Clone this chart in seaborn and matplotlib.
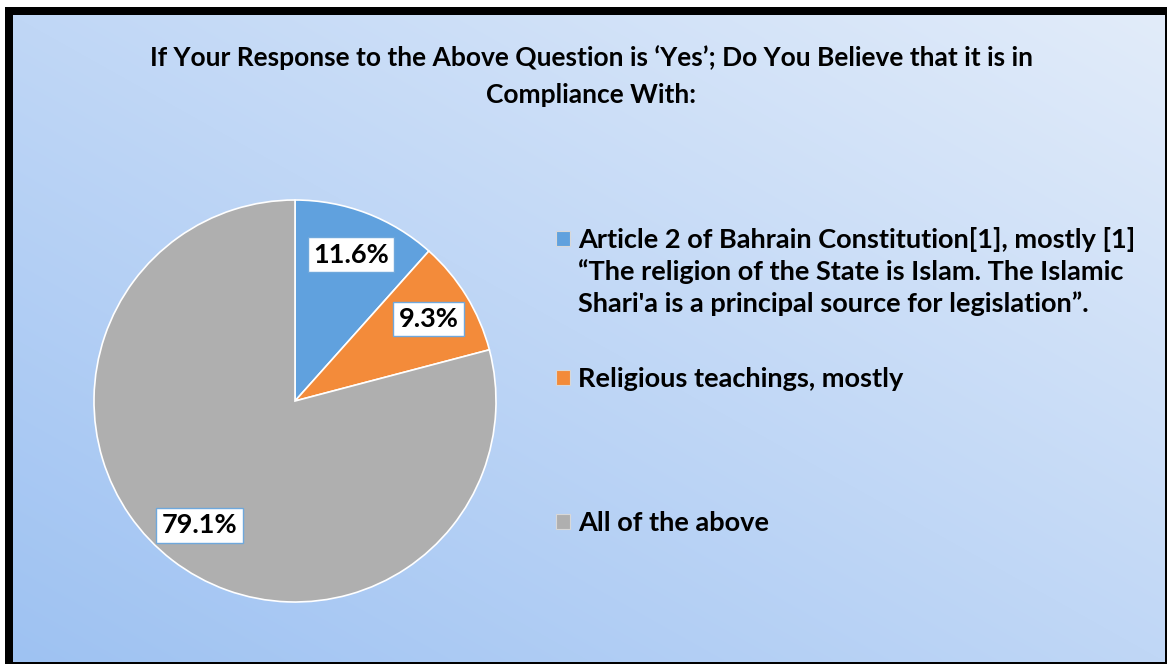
import numpy as np
import matplotlib
matplotlib.use("Agg")
import matplotlib.pyplot as plt
from matplotlib.patches import Patch, Rectangle
import seaborn as sns

# ---- data -------------------------------------------------------------
categories = [
    "Article 2 of Bahrain Constitution[1], mostly [1]\n"
    "\u201cThe religion of the State is Islam. The Islamic\n"
    "Shari'a is a principal source for legislation\u201d.",
    "Religious teachings, mostly",
    "All of the above",
]
shares = [11.6, 9.3, 79.1]
colors = ["#60a1de", "#f38b3a", "#afafaf"]
title_lines = [
    "If Your Response to the Above Question is \u2018Yes\u2019; Do You Believe that it is in",
    "Compliance With:",
]

# ---- style ------------------------------------------------------------
sns.set_theme(style="white")
plt.rcParams["font.family"] = ["Lato", "DejaVu Sans"]
plt.rcParams["font.weight"] = "bold"
plt.rcParams["text.color"] = "black"

W, H = 1168, 666
FS = 19.5
TITLE_FS = 19.0
fig = plt.figure(figsize=(W / 100, H / 100), dpi=100, facecolor="white")


def fx(px):
    return px / W


def fy(py):
    return 1 - py / H


# black frame with a heavier top/left edge
frame = Rectangle((fx(5), fy(664)), fx(1167) - fx(5), fy(7) - fy(664),
                  transform=fig.transFigure, facecolor="black",
                  edgecolor="none", zorder=-10)
fig.patches.append(frame)

# diagonal blue gradient panel
bg = fig.add_axes([fx(13), fy(662), fx(1165) - fx(13), fy(15) - fy(662)])
bg.set_zorder(-5)
gx, gy = np.meshgrid(np.linspace(0, 1, 400), np.linspace(1, 0, 240))
t = (gx + gy) / 2
c0 = np.array([0x9e, 0xc2, 0xf2]) / 255
c1 = np.array([0xe2, 0xec, 0xfa]) / 255
img = c0[None, None, :] * (1 - t[..., None]) + c1[None, None, :] * t[..., None]
bg.imshow(img, aspect="auto", extent=(0, 1, 0, 1), interpolation="bicubic")
bg.set_axis_off()

# ---- pie --------------------------------------------------------------
cx, cy, r = 295, 401, 201
ax = fig.add_axes([fx(cx - r), fy(cy + r), fx(2 * r), fy(cy - r) - fy(cy + r)])
wedges, texts, autotexts = ax.pie(
    shares,
    colors=colors,
    startangle=90,
    counterclock=False,
    autopct="%1.1f%%",
    pctdistance=0.78,
    wedgeprops=dict(edgecolor="white", linewidth=1.2),
    textprops=dict(fontsize=FS, fontweight="bold", color="black"),
)
for w in wedges:
    w.set_clip_on(False)
for at in autotexts:
    at.set_bbox(dict(boxstyle="square,pad=0.2", facecolor="white",
                     edgecolor="#6fa8dc", linewidth=1))
ax.set_xlim(-1, 1)
ax.set_ylim(-1, 1)
ax.set_aspect("equal")
ax.set_axis_off()

# ---- legend -----------------------------------------------------------
legend_tops = [227, 367, 511]
for label, color, top in zip(categories, colors, legend_tops):
    lines = label.split("\n")
    handles = [Patch(facecolor=color, edgecolor="#d8d8d8", linewidth=0.8)]
    handles += [Patch(facecolor="none", edgecolor="none")] * (len(lines) - 1)
    leg = fig.legend(
        handles, lines,
        loc="upper left",
        bbox_to_anchor=(fx(556), fy(top)),
        bbox_transform=fig.transFigure,
        frameon=False,
        fontsize=FS,
        handlelength=0.5,
        handleheight=0.5,
        handletextpad=0.3,
        labelspacing=0.27,
        borderpad=0,
        borderaxespad=0,
    )
    for txt in leg.get_texts():
        txt.set_fontweight("bold")
        txt.set_color("black")

# ---- title ------------------------------------------------------------
fig.text(fx(591), fy(58), title_lines[0], ha="center", va="center",
         fontsize=TITLE_FS, fontweight="bold", color="black")
fig.text(fx(591), fy(95), title_lines[1], ha="center", va="center",
         fontsize=TITLE_FS, fontweight="bold", color="black")

fig.savefig("out.png", dpi=100, facecolor="white")
